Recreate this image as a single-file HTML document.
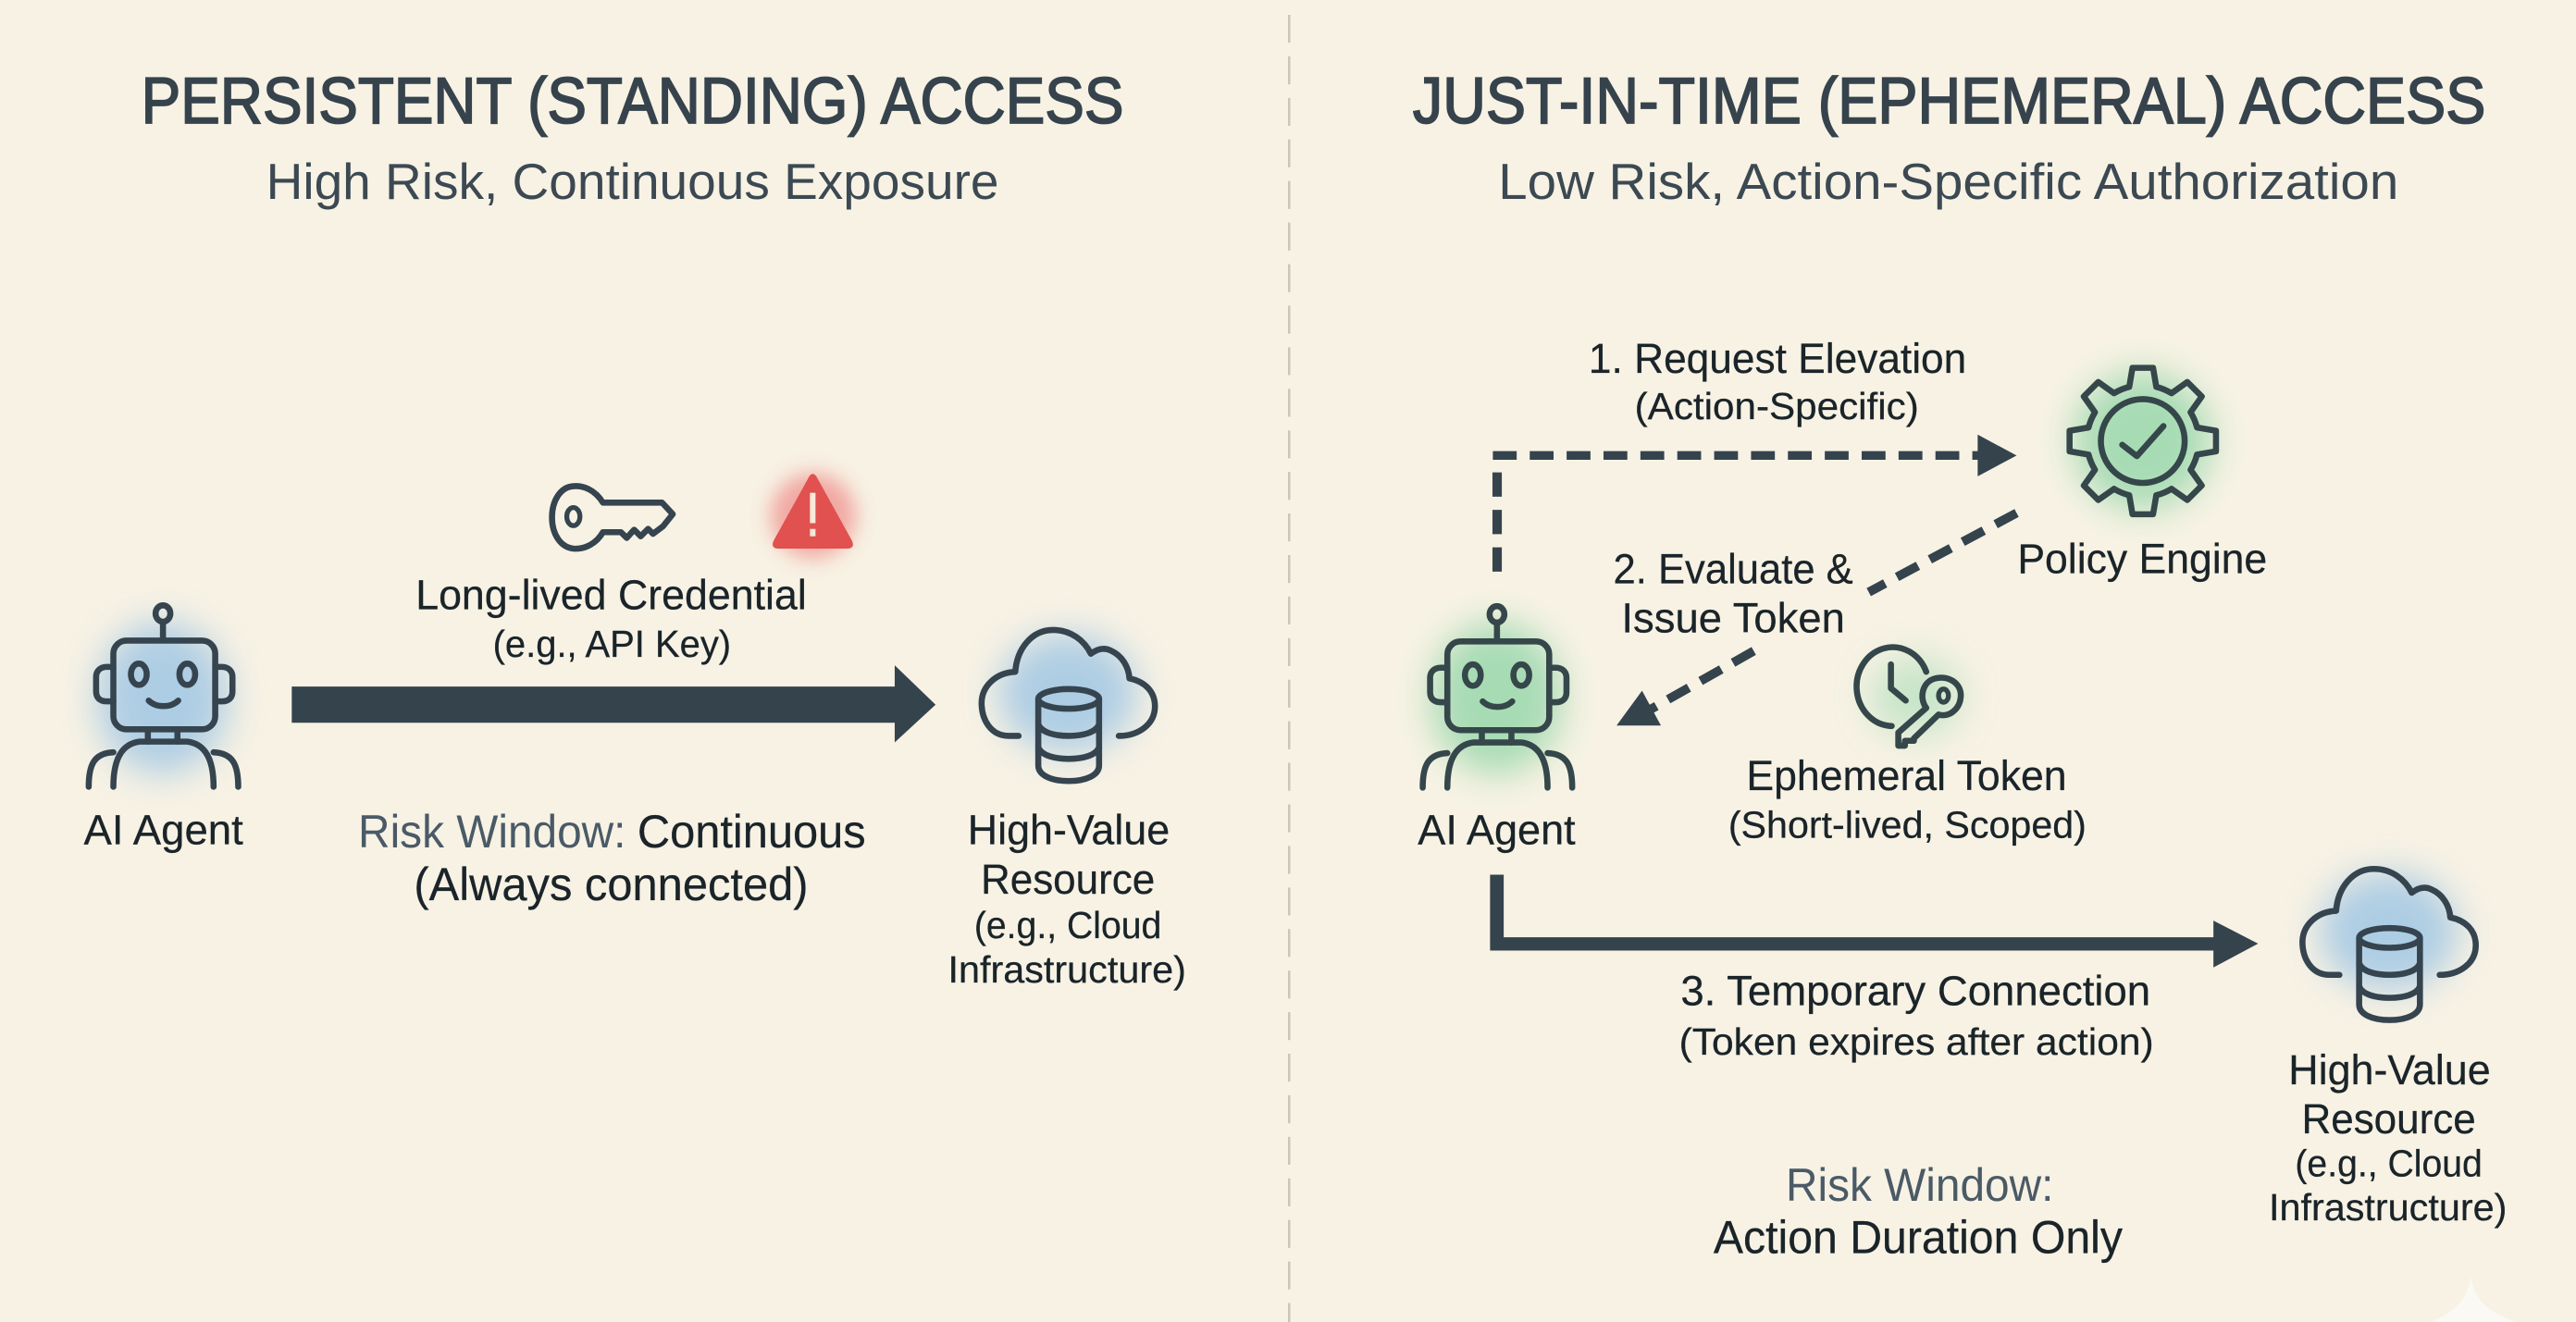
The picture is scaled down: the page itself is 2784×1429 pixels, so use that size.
<!DOCTYPE html>
<html>
<head>
<meta charset="utf-8">
<style>
html,body{margin:0;padding:0;background:#f7f2e4;}
svg{display:block;}
text{font-family:"Liberation Sans",sans-serif;}
.title{font-size:39.5px;fill:#36434c;stroke:#36434c;stroke-width:1px;}
.sub{font-size:31px;fill:#3c4952;}
.lb{font-size:25.5px;fill:#1a2429;stroke:#1a2429;stroke-width:.15px;}
.sm{font-size:23px;fill:#1a2429;stroke:#1a2429;stroke-width:.15px;}
.risk{font-size:28px;fill:#1a2429;stroke:#1a2429;stroke-width:.15px;}
.risk2{font-size:28px;fill:#4a5a66;}
.ic{fill:none;stroke:#35444e;stroke-width:3.7;stroke-linecap:round;stroke-linejoin:round;}
.icg{fill:none;stroke:#35474a;stroke-width:3.7;stroke-linecap:round;stroke-linejoin:round;}
</style>
</head>
<body>
<svg xmlns="http://www.w3.org/2000/svg" width="2784" height="1429" viewBox="0 0 1568 804.83" preserveAspectRatio="none">
<defs>
<filter id="b" x="-60%" y="-60%" width="220%" height="220%"><feGaussianBlur stdDeviation="11"/></filter>
<filter id="b2" x="-60%" y="-60%" width="220%" height="220%"><feGaussianBlur stdDeviation="6"/></filter>
<g id="robot">
  <ellipse cx="99.2" cy="373.5" rx="4.5" ry="5"/>
  <path d="M99.2 379V389"/>
  <rect x="69" y="390" width="62" height="54" rx="8"/>
  <path d="M69 406H65C60.5 406 58.5 409 58.5 412V421C58.5 424.500 60.500 427 65 427H69"/>
  <path d="M131 406H135C139.500 406 141.500 409 141.500 412V421C141.500 424.500 139.500 427 135 427H131"/>
  <ellipse cx="84.500" cy="410.500" rx="4.800" ry="6.500"/>
  <ellipse cx="114" cy="410.500" rx="4.800" ry="6.500"/>
  <path d="M90.500 426.500C95 431 104 431 108.500 426.500"/>
  <path d="M90 444V451.500M108 444V451.500"/>
  <path d="M69 479C69 464 73 453 85 451.500H114C126 453 130 464 130 479"/>
  <path d="M54 479C54 466 57 458.500 69 458M145 479C145 466 142 458.500 130 458"/>
</g>
<g id="cloud">
  <path d="M620 448H614C603 448 597.500 438 597.500 428C597.500 418 606 409.500 618 409C619 395 628 383.500 641 383.500C652 383.500 660 390 664 398C668 395 672 394 676 396C683 399 687 406 687.500 413C697 415 703 421 703 430C703 441 693 448 681 448"/>
  <ellipse cx="650.500" cy="425.500" rx="18.500" ry="6"/>
  <path d="M632 425.500V466C632 472 640 475.500 650.500 475.500C661 475.500 669 472 669 466V425.500"/>
  <path d="M632 441C634 446 642 448 650.500 448C659 448 667 446 669 441"/>
  <path d="M632 455C634 460 642 462 650.500 462C659 462 667 460 669 455"/>
</g>
</defs>

<rect width="1568" height="805" fill="#f7f2e4"/>

<!-- divider -->
<line x1="784.700" y1="9" x2="784.700" y2="805" stroke="#c9c6bc" stroke-width="1.400" stroke-dasharray="17 8.300"/>

<!-- glows -->
<ellipse cx="99" cy="425" rx="40" ry="46" fill="#a6c9e4" opacity=".9" filter="url(#b)"/>
<ellipse cx="650" cy="422" rx="42" ry="36" fill="#a6c9e4" opacity=".9" filter="url(#b)"/>
<ellipse cx="1454" cy="567" rx="42" ry="36" fill="#a6c9e4" opacity=".9" filter="url(#b)"/>
<ellipse cx="911" cy="425" rx="40" ry="46" fill="#a3dab2" opacity=".95" filter="url(#b)"/>
<circle cx="1304" cy="268.500" r="42" fill="#a3dab2" opacity=".95" filter="url(#b)"/>
<ellipse cx="1166" cy="424" rx="28" ry="24" fill="#b3dfbe" opacity=".7" filter="url(#b)"/>
<ellipse cx="495" cy="314" rx="26" ry="26" fill="#ef8f8c" opacity=".75" filter="url(#b2)"/>

<!-- titles -->
<text class="title" x="86" y="75" textLength="598" lengthAdjust="spacingAndGlyphs">PERSISTENT (STANDING) ACCESS</text>
<text class="sub" x="162" y="121" textLength="446" lengthAdjust="spacingAndGlyphs">High Risk, Continuous Exposure</text>
<text class="title" x="860" y="75" textLength="653" lengthAdjust="spacingAndGlyphs">JUST-IN-TIME (EPHEMERAL) ACCESS</text>
<text class="sub" x="912" y="121" textLength="548" lengthAdjust="spacingAndGlyphs">Low Risk, Action-Specific Authorization</text>

<!-- left: robot -->
<use href="#robot" class="ic"/>
<text class="lb" x="51" y="514" textLength="97" lengthAdjust="spacingAndGlyphs">AI Agent</text>

<!-- left: key -->
<path class="ic" d="M367 306C362 298 355 295.500 349 296C341 296.500 336 305 336 315C336 325 341 333 349 334C356 334.500 363 331 367 324H378L381.500 327.500L386 322.500L390 326.500L394.500 322L397.500 325L403.500 320.500L409.500 313L403 306Z"/>
<ellipse class="ic" cx="349" cy="314.500" rx="4" ry="5.500" style="stroke-width:3"/>

<!-- left: warning -->
<path d="M494.700 288.500C496 288.500 497 290 498 292L518.500 329C520 332 519 334 516 334H473.500C470.500 334 469.500 332 471 329L491.500 292C492.500 290 493.500 288.500 494.700 288.500Z" fill="#e0514f"/>
<rect x="493" y="300" width="3.400" height="18.500" fill="#f6e9da"/>
<rect x="493" y="322" width="3.400" height="4.500" fill="#f6e9da"/>

<text class="lb" x="253" y="371" textLength="238" lengthAdjust="spacingAndGlyphs">Long-lived Credential</text>
<text class="sm" x="300" y="400" textLength="145" lengthAdjust="spacingAndGlyphs">(e.g., API Key)</text>

<!-- left: big arrow -->
<polygon points="177.600,418 544.600,418 544.600,405 569.500,429 544.600,452 544.600,440 177.600,440" fill="#35434d"/>

<text class="risk2" x="218" y="516" textLength="163" lengthAdjust="spacingAndGlyphs">Risk Window:</text>
<text class="risk" x="388" y="516" textLength="139" lengthAdjust="spacingAndGlyphs">Continuous</text>
<text class="risk" x="252" y="548" textLength="240" lengthAdjust="spacingAndGlyphs">(Always connected)</text>

<!-- left: cloud -->
<use href="#cloud" class="ic"/>
<text class="lb" x="589" y="514" textLength="123" lengthAdjust="spacingAndGlyphs">High-Value</text>
<text class="lb" x="597" y="544" textLength="106" lengthAdjust="spacingAndGlyphs">Resource</text>
<text class="sm" x="593" y="571" textLength="114" lengthAdjust="spacingAndGlyphs">(e.g., Cloud</text>
<text class="sm" x="577" y="598" textLength="145" lengthAdjust="spacingAndGlyphs">Infrastructure)</text>

<!-- right: labels -->
<text class="lb" x="967" y="227" textLength="230" lengthAdjust="spacingAndGlyphs">1. Request Elevation</text>
<text class="sm" x="995" y="255" textLength="173" lengthAdjust="spacingAndGlyphs">(Action-Specific)</text>
<text class="lb" x="982" y="355" textLength="146" lengthAdjust="spacingAndGlyphs">2. Evaluate &amp;</text>
<text class="lb" x="987" y="385" textLength="136" lengthAdjust="spacingAndGlyphs">Issue Token</text>
<text class="lb" x="1228" y="349" textLength="152" lengthAdjust="spacingAndGlyphs">Policy Engine</text>
<text class="lb" x="1063" y="481" textLength="195" lengthAdjust="spacingAndGlyphs">Ephemeral Token</text>
<text class="sm" x="1052" y="510" textLength="218" lengthAdjust="spacingAndGlyphs">(Short-lived, Scoped)</text>
<text class="lb" x="863" y="514" textLength="96" lengthAdjust="spacingAndGlyphs">AI Agent</text>
<text class="lb" x="1023" y="612" textLength="286" lengthAdjust="spacingAndGlyphs">3. Temporary Connection</text>
<text class="sm" x="1022" y="642" textLength="289" lengthAdjust="spacingAndGlyphs">(Token expires after action)</text>
<text class="lb" x="1393" y="660" textLength="123" lengthAdjust="spacingAndGlyphs">High-Value</text>
<text class="lb" x="1401" y="690" textLength="106" lengthAdjust="spacingAndGlyphs">Resource</text>
<text class="sm" x="1397" y="716" textLength="114" lengthAdjust="spacingAndGlyphs">(e.g., Cloud</text>
<text class="sm" x="1381" y="743" textLength="145" lengthAdjust="spacingAndGlyphs">Infrastructure)</text>
<text class="risk2" x="1087" y="731" textLength="163" lengthAdjust="spacingAndGlyphs">Risk Window:</text>
<text class="risk" x="1043" y="763" textLength="249" lengthAdjust="spacingAndGlyphs">Action Duration Only</text>

<!-- right: icons -->
<use href="#robot" class="icg" transform="translate(812 .5)"/>
<use href="#cloud" class="ic" transform="translate(804 145.500)"/>

<g class="icg" transform="translate(1304.300 268.500)">
  <path d="M-8.230 -33L-6.260 -44.560L6.260 -44.560L8.230 -33A34 34 0 0 1 17.500 -29.100L27.100 -35.900L35.900 -27.100L29.100 -17.500A34 34 0 0 1 33 -8.230L44.560 -6.260L44.560 6.260L33 8.230A34 34 0 0 1 29.100 17.500L35.900 27.100L27.100 35.900L17.500 29.100A34 34 0 0 1 8.230 33L6.260 44.560L-6.260 44.560L-8.230 33A34 34 0 0 1 -17.500 29.100L-27.100 35.900L-35.900 27.100L-29.100 17.500A34 34 0 0 1 -33 8.230L-44.560 6.260L-44.560 -6.260L-33 -8.230A34 34 0 0 1 -29.100 -17.500L-35.900 -27.100L-27.100 -35.900L-17.500 -29.100A34 34 0 0 1 -8.230 -33Z"/>
  <circle r="25.500"/>
  <path d="M-12.500 2.300L-3.600 9.200L12.600 -9.100"/>
</g>

<!-- clock key -->
<g class="icg">
  <path d="M1172.500 409A22 24 0 1 0 1151.500 442"/>
  <path d="M1151 404.500V419L1160 426.500"/>
  <path d="M1172.500 431C1168 425 1170 415 1178 413C1186 411 1194 416 1193.500 424C1193 432 1186 437 1180 435L1165 449.500V451H1159.500V454H1155.500V446Z"/>
  <ellipse cx="1183" cy="423.500" rx="3" ry="4" style="stroke-width:3"/>
</g>

<!-- dashed 1 -->
<path d="M908.700 277.300H1204" fill="none" stroke="#35434d" stroke-width="5.300" stroke-dasharray="14.500 7.950"/>
<polygon points="1203.800,264.600 1227.500,277.300 1203.800,290" fill="#35434d"/>
<path d="M911.300 287.600V348" fill="none" stroke="#35434d" stroke-width="5.700" stroke-dasharray="14.800 8"/>

<!-- dashed 2 -->
<path d="M1227.500 312.300L1137.500 360.500" fill="none" stroke="#35434d" stroke-width="5.500" stroke-dasharray="14.500 8.200"/>
<path d="M1067.500 396.300L1000 434.500" fill="none" stroke="#35434d" stroke-width="5.500" stroke-dasharray="14.500 8.200"/>
<polygon points="984,441.700 999.500,420.500 1011,441.700" fill="#35434d"/>

<!-- solid elbow -->
<path d="M907 532.500H915.300V570.600H1347.300V560.500L1374.500 574.500L1347.300 589V578.700H907Z" fill="#35434d"/>

<!-- sparkle -->
<path d="M1504 777C1506 790 1512 798 1532 805H1479C1496 798 1502 790 1504 777Z" fill="#fbf9f3"/>
</svg>
</body>
</html>
